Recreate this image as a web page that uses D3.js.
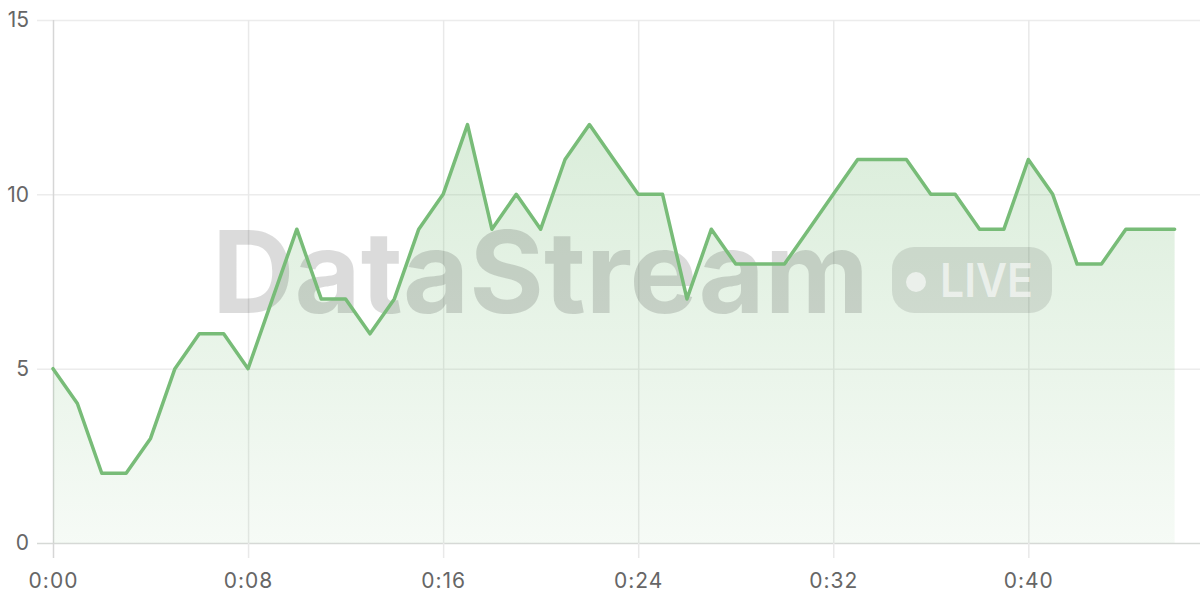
<!DOCTYPE html>
<html><head><meta charset="utf-8">
<script src="https://cdn.jsdelivr.net/npm/d3@7"></script>
<style>
html,body{margin:0;padding:0;background:#fff;}
svg{display:block;}
text{font-family:"Inter","Noto Sans",sans-serif;}
</style></head>
<body>
<svg id="chart" width="1200" height="600"></svg>
<script>
const seconds = d3.range(0, 47);
const values = [5,4,2,2,3,5,6,6,5,7,9,7,7,6,7,9,10,12,9,10,9,11,12,11,10,10,7,9,8,8,8,9,10,11,11,11,10,10,9,9,11,10,8,8,9,9,9];
const xTicks = [0,8,16,24,32,40];
const yTicks = [0,5,10,15];
const watermarkText = "DataStream";
const badgeText = "LIVE";

const FONT = "Inter, 'Noto Sans', sans-serif";
const svg = d3.select("#chart");
const x = d3.scaleLinear().domain([0,47]).range([53,1199]);
const y = d3.scaleLinear().domain([0,15]).range([543,20]);
const fmt = s => Math.floor(s/60) + ":" + String(s%60).padStart(2,"0");

const defs = svg.append("defs");
const grad = defs.append("linearGradient").attr("id","ag")
  .attr("gradientUnits","userSpaceOnUse").attr("x1",0).attr("x2",0).attr("y1",y(12)).attr("y2",y(0));
grad.append("stop").attr("offset","0%").attr("stop-color","#7cbf7c").attr("stop-opacity",0.28);
grad.append("stop").attr("offset","100%").attr("stop-color","#7cbf7c").attr("stop-opacity",0.07);

// horizontal grid + y ticks
const yAxis = d3.axisLeft(y).tickValues(yTicks).tickSize(-(1200-37)).tickPadding(8);
const gy = svg.append("g").attr("transform","translate(37,0)").call(yAxis)
  .attr("font-family",FONT).attr("font-size",21);
gy.select(".domain").remove();
gy.selectAll(".tick line").attr("stroke", d => d===0 ? "#d6d9d6" : "#ececec").attr("stroke-width",1.5);
gy.selectAll(".tick text").attr("x",-8).attr("fill","#666");

// vertical grid + x ticks
const xAxis = d3.axisBottom(x).tickValues(xTicks).tickFormat(fmt).tickSize(-(558-20)).tickPadding(0);
const gx = svg.append("g").attr("transform","translate(0,558)").call(xAxis)
  .attr("font-family",FONT).attr("font-size",21);
gx.select(".domain").remove();
gx.selectAll(".tick line").attr("stroke", d => d===0 ? "#d6d6d6" : "#e9e9e9").attr("stroke-width",1.5);
gx.selectAll(".tick text").attr("y",30).attr("dy",0).attr("fill","#666").attr("letter-spacing",1);

// area
const area = d3.area().x((d,i)=>x(seconds[i])).y0(y(0)).y1(d=>y(d));
svg.append("path").datum(values).attr("d",area).attr("fill","url(#ag)");

// watermark
const wm = svg.append("g").attr("pointer-events","none").attr("font-family",FONT);
wm.append("text").attr("x",212).attr("y",313).attr("font-size",114).attr("font-weight",700)
  .attr("textLength",657).attr("lengthAdjust","spacingAndGlyphs")
  .attr("fill","#000").attr("fill-opacity",0.14).text(watermarkText);
wm.append("rect").attr("x",892).attr("y",247).attr("width",160).attr("height",66).attr("rx",22)
  .attr("fill","#000").attr("fill-opacity",0.1);
wm.append("circle").attr("cx",916).attr("cy",282).attr("r",10).attr("fill","#fff").attr("fill-opacity",0.6);
wm.append("text").attr("x",940).attr("y",297).attr("font-size",47).attr("font-weight",600)
  .attr("textLength",93).attr("lengthAdjust","spacingAndGlyphs")
  .attr("fill","#fff").attr("fill-opacity",0.6).text(badgeText);

// line
const line = d3.line().x((d,i)=>x(seconds[i])).y(d=>y(d));
svg.append("path").datum(values).attr("d",line).attr("fill","none")
  .attr("stroke","#78bc78").attr("stroke-width",3.5).attr("stroke-linejoin","round").attr("stroke-linecap","round");
</script>
</body></html>
